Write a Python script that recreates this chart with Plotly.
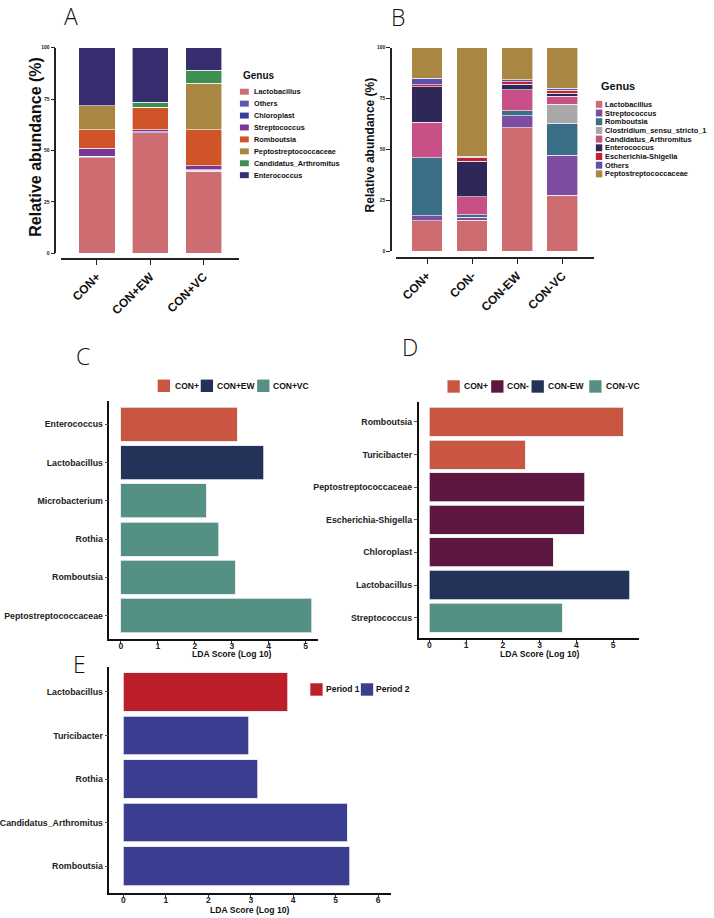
import plotly.graph_objects as go

W, H = 714, 918


def px(x):
    return x / W


def py(y):
    return 1 - y / H


# ---------------- DATA ----------------
# Panel A (relative abundance %, stacked bottom -> top in this order)
a_groups = ["CON+", "CON+EW", "CON+VC"]
a_genus = ["Lactobacillus", "Others", "Chloroplast", "Streptococcus", "Romboutsia",
           "Peptostreptococcaceae", "Candidatus_Arthromitus", "Enterococcus"]
a_lactobacillus = [46.5, 58.6, 40.0]
a_others = [0.8, 0.5, 0.4]
a_chloroplast = [0.0, 0.0, 0.2]
a_streptococcus = [3.9, 1.1, 2.1]
a_romboutsia = [9.0, 10.5, 17.3]
a_peptostreptococcaceae = [11.6, 0.3, 22.6]
a_candidatus = [0.0, 2.4, 6.4]
a_enterococcus = [28.2, 26.6, 11.0]

# Panel B
b_groups = ["CON+", "CON-", "CON-EW", "CON-VC"]
b_genus = ["Lactobacillus", "Streptococcus", "Romboutsia", "Clostridium_sensu_stricto_1",
           "Candidatus_Arthromitus", "Enterococcus", "Escherichia-Shigella", "Others",
           "Peptostreptococcaceae"]
b_lactobacillus = [15.1, 15.4, 60.7, 27.5]
b_streptococcus = [2.5, 1.3, 6.0, 19.7]
b_romboutsia = [28.3, 1.3, 2.4, 15.6]
b_clostridium = [0.0, 0.0, 0.0, 9.4]
b_candidatus = [17.4, 8.8, 10.2, 3.9]
b_enterococcus = [17.5, 17.4, 2.8, 1.6]
b_escherichia = [1.1, 2.1, 1.3, 1.3]
b_others = [3.1, 0.5, 0.8, 1.0]
b_peptostreptococcaceae = [15.0, 53.2, 15.8, 20.0]

# Panel C (LDA)
c_groups = ["CON+", "CON+EW", "CON+VC"]
c_genus = ["Enterococcus", "Lactobacillus", "Microbacterium", "Rothia", "Romboutsia",
           "Peptostreptococcaceae"]
c_group = ["CON+", "CON+EW", "CON+VC", "CON+VC", "CON+VC", "CON+VC"]
c_lda = [3.15, 3.87, 2.31, 2.65, 3.10, 5.17]

# Panel D (LDA)
d_groups = ["CON+", "CON-", "CON-EW", "CON-VC"]
d_genus = ["Romboutsia", "Turicibacter", "Peptostreptococcaceae", "Escherichia-Shigella",
           "Chloroplast", "Lactobacillus", "Streptococcus"]
d_group = ["CON+", "CON+", "CON-", "CON-", "CON-", "CON-EW", "CON-VC"]
d_lda = [5.27, 2.61, 4.23, 4.21, 3.37, 5.45, 3.61]

# Panel E (LDA)
e_groups = ["Period 1", "Period 2"]
e_genus = ["Lactobacillus", "Turicibacter", "Rothia", "Candidatus_Arthromitus", "Romboutsia"]
e_group = ["Period 1", "Period 2", "Period 2", "Period 2", "Period 2"]
e_lda = [3.87, 2.95, 3.17, 5.27, 5.33]

# ---------------- STYLE ----------------
FONT = "Liberation Sans, Arial, sans-serif"
a_colors = ["#cd6c71", "#5b56b2", "#3b3a9e", "#7b3696", "#cf5529", "#a98641", "#3f8f52", "#362e6f"]
b_colors = ["#cd6c71", "#7e4ca0", "#3b6f87", "#a8a8a8", "#c94f87", "#2e2859", "#c4212f", "#5a51ab", "#a98641"]
grp_colors = {"CON+": "#c85641", "CON+EW": "#243259", "CON+VC": "#559085",
              "CON-": "#5e173f", "CON-EW": "#243259", "CON-VC": "#559085",
              "Period 1": "#bd1f2a", "Period 2": "#3b3d91"}

a_values = [a_lactobacillus, a_others, a_chloroplast, a_streptococcus, a_romboutsia,
            a_peptostreptococcaceae, a_candidatus, a_enterococcus]
b_values = [b_lactobacillus, b_streptococcus, b_romboutsia, b_clostridium, b_candidatus,
            b_enterococcus, b_escherichia, b_others, b_peptostreptococcaceae]

fig = go.Figure()

for name, vals, col in zip(a_genus, a_values, a_colors):
    fig.add_trace(go.Bar(x=a_groups, y=vals, name=name, marker=dict(color=col, line=dict(color="white", width=0.6)),
                         width=0.68, xaxis="x", yaxis="y", showlegend=False))

for name, vals, col in zip(b_genus, b_values, b_colors):
    fig.add_trace(go.Bar(x=b_groups, y=vals, name=name, marker=dict(color=col, line=dict(color="white", width=0.6)),
                         width=0.68, xaxis="x2", yaxis="y2", showlegend=False))


def lda_traces(genus, group, lda, groups, xa, ya):
    for g in groups:
        ys = [gn for gn, gg in zip(genus, group) if gg == g]
        xs = [v for v, gg in zip(lda, group) if gg == g]
        fig.add_trace(go.Bar(x=xs, y=ys, orientation="h", name=g,
                             marker=dict(color=grp_colors[g], line=dict(color="#e6e6ef", width=0.8)),
                             width=0.89, xaxis=xa, yaxis=ya, showlegend=False))


lda_traces(c_genus, c_group, c_lda, c_groups, "x3", "y3")
lda_traces(d_genus, d_group, d_lda, d_groups, "x4", "y4")
lda_traces(e_genus, e_group, e_lda, e_groups, "x5", "y5")

axcol = "#222222"
small_tick = dict(family=FONT, size=5, color="#222", weight="bold")
tick_x = dict(family=FONT, size=8.5, color="#222", weight="bold")
tick_y = dict(family=FONT, size=8.8, color="#222", weight="bold")
tick12 = dict(family=FONT, size=12, color="#111", weight="bold")

layout = dict(
    width=W, height=H, margin=dict(l=0, r=0, t=0, b=0),
    paper_bgcolor="white", plot_bgcolor="white", barmode="stack", showlegend=False,
    font=dict(family=FONT, color="#222"),
    # Panel A
    xaxis=dict(domain=[px(51), px(232)], anchor="free", position=py(258), range=[-0.67, 2.67],
               type="category", showline=True, linecolor=axcol, linewidth=1.6, ticks="outside",
               ticklen=5, tickwidth=1.2, tickcolor=axcol, tickangle=-45, tickfont=tick12,
               showgrid=False, zeroline=False),
    yaxis=dict(domain=[py(252), py(45)], anchor="free", position=px(45), range=[0, 100],
               tickvals=[0, 25, 50, 75, 100], showline=True, linecolor=axcol, linewidth=1.6,
               ticks="outside", ticklen=4, tickwidth=1, tickcolor=axcol, tickfont=small_tick,
               showgrid=False, zeroline=False),
    # Panel B
    xaxis2=dict(domain=[px(391), px(592)], anchor="free", position=py(257), range=[-0.69, 3.70],
                type="category", showline=True, linecolor=axcol, linewidth=1.6, ticks="outside",
                ticklen=5, tickwidth=1.2, tickcolor=axcol, tickangle=-45, tickfont=tick12,
                showgrid=False, zeroline=False),
    yaxis2=dict(domain=[py(250), py(45)], anchor="free", position=px(386), range=[0, 100],
                tickvals=[0, 25, 50, 75, 100], showline=True, linecolor=axcol, linewidth=1.6,
                ticks="outside", ticklen=4, tickwidth=1, tickcolor=axcol, tickfont=small_tick,
                showgrid=False, zeroline=False),
)


def lda_axes(xd, yd, xr, nlab, xa, ya, xticks):
    xaxis = dict(domain=[px(xd[0]), px(xd[1])], anchor=ya, range=xr, tickvals=xticks,
                 showline=True, linecolor="#111", linewidth=1.5, ticks="outside", ticklen=3,
                 tickwidth=1, tickcolor="#333", tickfont=tick_x, ticklabelstandoff=-5,
                 showgrid=False, zeroline=False)
    yaxis = dict(domain=[py(yd[1]), py(yd[0])], anchor=xa, type="category",
                 categoryorder="array", categoryarray=nlab, range=[len(nlab) - 0.4 + yd[2], -0.6 - yd[3]],
                 showline=True, linecolor="#111", linewidth=1.5, ticks="outside", ticklen=3,
                 tickwidth=1, tickcolor="#555", tickfont=tick_y, showgrid=False, zeroline=False)
    return xaxis, yaxis


layout["xaxis3"], layout["yaxis3"] = lda_axes((100, 312), (401, 640, 0.01, 0.0), [-0.31, 5.34], c_genus,
                                              "x3", "y3", [0, 1, 2, 3, 4, 5])
layout["xaxis4"], layout["yaxis4"] = lda_axes((414, 638), (401.7, 639, 0.02, 0.01), [-0.295, 5.71], d_genus,
                                              "x4", "y4", [0, 1, 2, 3, 4, 5])
layout["xaxis5"], layout["yaxis5"] = lda_axes((100, 385.7), (668, 896, 0.02, -0.02), [-0.33, 6.30], e_genus,
                                              "x5", "y5", [0, 1, 2, 3, 4, 5, 6])

fig.update_layout(**layout)

annotations = []
shapes = []


def text(x, y, s, size, bold=True, xanchor="left", angle=0, color="#111"):
    annotations.append(dict(x=px(x), y=py(y), xref="paper", yref="paper", text=s, showarrow=False,
                            xanchor=xanchor, yanchor="middle", textangle=angle, borderpad=0,
                            font=dict(family=FONT, size=size, color=color, weight="bold" if bold else "normal")))


def square(x0, yc, w, h, color):
    shapes.append(dict(type="rect", xref="paper", yref="paper", x0=px(x0), x1=px(x0 + w),
                       y0=py(yc + h / 2), y1=py(yc - h / 2), fillcolor=color, line=dict(width=0)))


# Panel letters
for letter, (lx, ly) in zip("ABCDE", [(61, 13), (393, 14), (73, 355), (405, 346), (69.5, 665)]):
    annotations.append(dict(x=px(lx), y=py(ly), xref="paper", yref="paper", text=letter, showarrow=False,
                            xanchor="center", yanchor="middle",
                            font=dict(family="Open Sans", size=23, color="#111", weight=300)))

# y-axis titles of A and B
text(24, 145, "Relative abundance (%)", 16, xanchor="center", angle=-90)
text(365, 143, "Relative abundance (%)", 12, xanchor="center", angle=-90)

# Legend A
text(235, 73, "Genus", 10)
for i, (nm, col) in enumerate(zip(a_genus, a_colors)):
    yc = 89.3 + 12 * i
    square(232.5, yc, 9, 6, col)
    text(245.5, yc, nm, 7.3)

# Legend B
text(598, 84, "Genus", 11)
for i, (nm, col) in enumerate(zip(b_genus, b_colors)):
    yc = 102 + 8.75 * i
    square(594, yc, 6.5, 7, col)
    text(602.5, yc, nm, 7.4)

# Legends C, D, E (horizontal)
for groups, sq_x, txt_x, yc in [
    (c_groups, [149, 192.7, 250], [165.5, 208.5, 265.5], 385.3),
    (d_groups, [443.3, 487.7, 528.7, 587.3], [459, 503, 544, 603.5], 386),
    (e_groups, [304, 355.3], [319, 370], 691),
]:
    for g, sx, tx in zip(groups, sq_x, txt_x):
        square(sx, yc, 12.5, 12.5, grp_colors[g])
        text(tx, yc, g, 8.5)

# LDA axis titles
text(224, 655.5, "LDA Score (Log 10)", 8.6, xanchor="center")
text(537, 655.5, "LDA Score (Log 10)", 8.6, xanchor="center")
text(243, 912.5, "LDA Score (Log 10)", 8.6, xanchor="center")

fig.update_layout(annotations=annotations, shapes=shapes)
fig.write_html("out.html")
